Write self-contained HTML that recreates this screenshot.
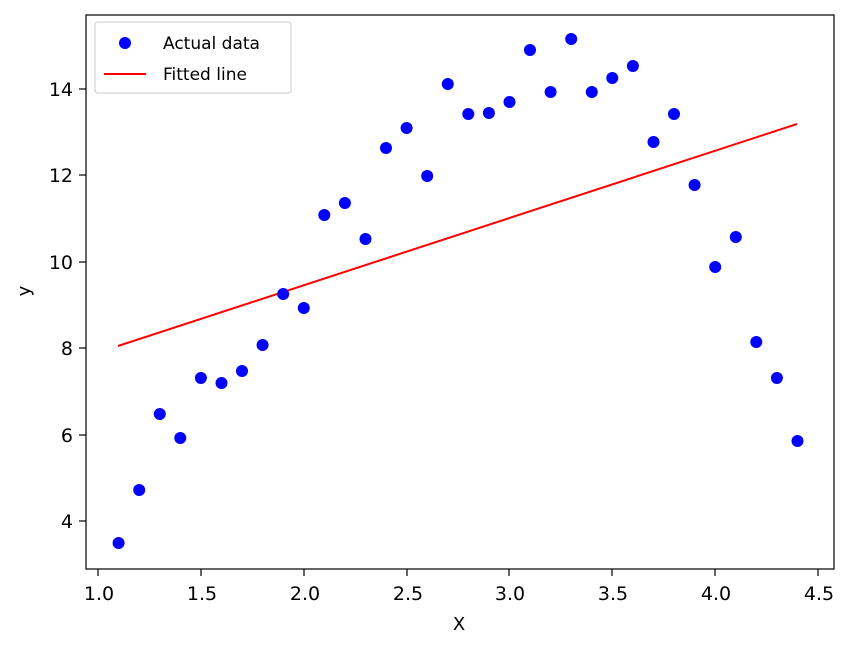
<!DOCTYPE html>
<html><head><style>body{margin:0;background:#fff}svg{display:block}text{font-family:"DejaVu Sans","Liberation Sans",sans-serif;fill:#000}</style></head>
<body>
<svg width="847" height="648" viewBox="0 0 847 648">
<rect x="86" y="15" width="748" height="554" fill="none" stroke="#000" stroke-width="1.2"/>
<g stroke="#000" stroke-width="1.2">
<line x1="98" y1="569" x2="98" y2="576"/><line x1="201" y1="569" x2="201" y2="576"/><line x1="304" y1="569" x2="304" y2="576"/><line x1="407" y1="569" x2="407" y2="576"/><line x1="509" y1="569" x2="509" y2="576"/><line x1="612" y1="569" x2="612" y2="576"/><line x1="715" y1="569" x2="715" y2="576"/><line x1="818" y1="569" x2="818" y2="576"/>
<line x1="79" y1="521" x2="86" y2="521"/><line x1="79" y1="435" x2="86" y2="435"/><line x1="79" y1="348" x2="86" y2="348"/><line x1="79" y1="262" x2="86" y2="262"/><line x1="79" y1="175" x2="86" y2="175"/><line x1="79" y1="89" x2="86" y2="89"/>
</g>
<g font-size="19" text-anchor="middle">
<text x="99" y="600">1.0</text><text x="202" y="600">1.5</text><text x="305" y="600">2.0</text><text x="408" y="600">2.5</text><text x="510" y="600">3.0</text><text x="613" y="600">3.5</text><text x="716" y="600">4.0</text><text x="819" y="600">4.5</text>
<text x="459" y="630" font-size="18">X</text>
</g>
<g font-size="19" text-anchor="end">
<text x="73" y="528">4</text><text x="73" y="442">6</text><text x="73" y="355">8</text><text x="73" y="269">10</text><text x="73" y="182">12</text><text x="73" y="96">14</text>
</g>
<text x="30" y="291" font-size="18" text-anchor="middle" transform="rotate(-90 30 291)">y</text>
<line x1="118" y1="346" x2="797" y2="124" stroke="#f00" stroke-width="2"/>
<g fill="#00f">
<circle cx="118.6" cy="543" r="6"/><circle cx="139.2" cy="490" r="6"/><circle cx="159.8" cy="414" r="6"/><circle cx="180.3" cy="438" r="6"/><circle cx="200.9" cy="378" r="6"/><circle cx="221.5" cy="383" r="6"/><circle cx="242" cy="371" r="6"/><circle cx="262.6" cy="345" r="6"/><circle cx="283.2" cy="294" r="6"/><circle cx="303.8" cy="308" r="6"/><circle cx="324.3" cy="215" r="6"/><circle cx="344.9" cy="203" r="6"/><circle cx="365.5" cy="239" r="6"/><circle cx="386" cy="148" r="6"/><circle cx="406.6" cy="128" r="6"/><circle cx="427.2" cy="176" r="6"/><circle cx="447.8" cy="84" r="6"/><circle cx="468.3" cy="114" r="6"/><circle cx="488.9" cy="113" r="6"/><circle cx="509.5" cy="102" r="6"/><circle cx="530" cy="50" r="6"/><circle cx="550.6" cy="92" r="6"/><circle cx="571.2" cy="39" r="6"/><circle cx="591.8" cy="92" r="6"/><circle cx="612.3" cy="78" r="6"/><circle cx="632.9" cy="66" r="6"/><circle cx="653.5" cy="142" r="6"/><circle cx="674" cy="114" r="6"/><circle cx="694.6" cy="185" r="6"/><circle cx="715.2" cy="267" r="6"/><circle cx="735.8" cy="237" r="6"/><circle cx="756.3" cy="342" r="6"/><circle cx="776.9" cy="378" r="6"/><circle cx="797.5" cy="441" r="6"/>
</g>
<rect x="95" y="22" width="196" height="71" rx="3" fill="#fff" fill-opacity="0.8" stroke="#ccc"/>
<circle cx="125" cy="43" r="6" fill="#00f"/>
<line x1="104" y1="74" x2="146" y2="74" stroke="#f00" stroke-width="2"/>
<text x="163" y="49" font-size="17">Actual data</text>
<text x="163" y="80" font-size="17">Fitted line</text>
</svg>
</body></html>
